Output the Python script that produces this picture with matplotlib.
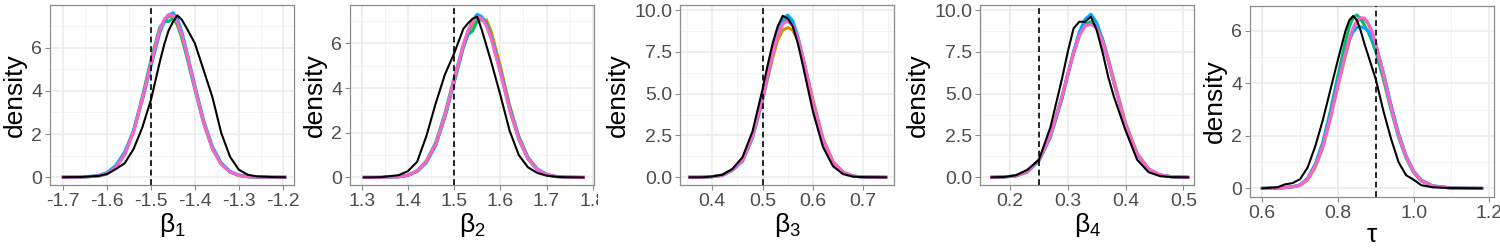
import numpy as np
import matplotlib.pyplot as plt
from matplotlib.transforms import Bbox, TransformedBbox

plt.rcParams['font.family'] = ['Liberation Sans', 'DejaVu Sans']
plt.rcParams['mathtext.fontset'] = 'custom'
plt.rcParams['mathtext.rm'] = 'Liberation Sans'
plt.rcParams['mathtext.it'] = 'Liberation Sans'
plt.rcParams['axes.unicode_minus'] = False

# ---- posterior densities (per chain + black reference) ----
x1 = [-1.70, -1.66, -1.62, -1.60, -1.58, -1.56, -1.54, -1.52, -1.50, -1.48, -1.47, -1.46, -1.45,
      -1.44, -1.43, -1.42, -1.40, -1.38, -1.36, -1.34, -1.32, -1.30, -1.28, -1.26, -1.22, -1.195]
b1_orange = [0, 0.004, 0.055, 0.17, 0.47, 1.08, 2.12, 3.60, 5.30, 6.80, 7.25, 7.45, 7.40, 7.05, 6.50, 5.80,
             4.15, 2.55, 1.35, 0.62, 0.25, 0.09, 0.025, 0.005, 0, 0]
b1_green = [0, 0.004, 0.05, 0.16, 0.45, 1.05, 2.15, 3.72, 5.45, 6.95, 7.20, 7.22, 7.35, 7.10, 6.45, 5.70,
            4.05, 2.48, 1.30, 0.60, 0.24, 0.08, 0.025, 0.006, 0, 0]
b1_cyan = [0, 0.006, 0.08, 0.22, 0.55, 1.18, 2.15, 3.55, 5.15, 6.70, 7.20, 7.50, 7.62, 7.35, 6.75, 5.95,
           4.25, 2.62, 1.42, 0.66, 0.27, 0.10, 0.03, 0.008, 0, 0]
b1_pink = [0, 0.004, 0.06, 0.17, 0.46, 1.06, 2.10, 3.62, 5.30, 6.85, 7.32, 7.54, 7.50, 7.20, 6.60, 5.86,
           4.14, 2.52, 1.33, 0.60, 0.24, 0.08, 0.023, 0.005, 0, 0]
b1_black = [0, 0.01, 0.06, 0.15, 0.38, 0.65, 1.30, 2.30, 3.60, 5.35, 6.15, 6.80, 7.20, 7.50, 7.30, 6.95,
            6.20, 4.95, 3.70, 2.05, 0.95, 0.35, 0.12, 0.04, 0.005, 0]

x2 = [1.305, 1.34, 1.38, 1.40, 1.42, 1.44, 1.46, 1.48, 1.50, 1.52, 1.53, 1.54, 1.55, 1.56, 1.57, 1.58,
      1.60, 1.62, 1.64, 1.66, 1.68, 1.70, 1.72, 1.74, 1.78]
b2_orange = [0, 0.002, 0.025, 0.09, 0.27, 0.68, 1.45, 2.70, 4.25, 5.80, 6.40, 6.85, 7.00, 7.05, 7.05, 6.55,
             5.00, 3.25, 1.85, 0.90, 0.38, 0.13, 0.04, 0.01, 0]
b2_green = [0, 0.002, 0.03, 0.10, 0.30, 0.74, 1.55, 2.85, 4.45, 5.90, 6.40, 6.55, 7.00, 7.15, 6.90, 6.30,
            4.75, 3.05, 1.70, 0.82, 0.34, 0.12, 0.04, 0.01, 0]
b2_cyan = [0, 0.003, 0.03, 0.09, 0.26, 0.66, 1.42, 2.68, 4.25, 5.85, 6.50, 7.05, 7.30, 7.20, 6.85, 6.30,
           4.80, 3.15, 1.80, 0.88, 0.38, 0.14, 0.05, 0.01, 0]
b2_pink = [0, 0.002, 0.03, 0.10, 0.29, 0.71, 1.50, 2.76, 4.37, 5.96, 6.58, 7.01, 7.19, 7.12, 6.78, 6.23,
           4.70, 3.05, 1.72, 0.83, 0.35, 0.12, 0.04, 0.01, 0]
b2_black = [0, 0.01, 0.10, 0.28, 0.70, 1.85, 3.30, 4.60, 5.55, 6.65, 6.90, 7.10, 7.20, 6.60, 5.90, 5.20,
            3.70, 2.10, 1.00, 0.45, 0.20, 0.08, 0.03, 0.01, 0]

x3 = [0.355, 0.38, 0.40, 0.42, 0.44, 0.46, 0.48, 0.50, 0.51, 0.52, 0.53, 0.54, 0.55, 0.56, 0.57, 0.58,
      0.60, 0.62, 0.64, 0.66, 0.68, 0.70, 0.745]
b3_orange = [0, 0.003, 0.035, 0.12, 0.43, 0.98, 2.40, 4.60, 5.90, 7.15, 8.20, 8.80, 8.95, 8.80, 8.20, 7.20,
             4.65, 2.35, 0.95, 0.31, 0.08, 0.015, 0]
b3_green = [0, 0.003, 0.04, 0.13, 0.46, 1.02, 2.48, 4.80, 6.15, 7.45, 8.55, 9.25, 9.45, 9.15, 8.30, 7.10,
            4.40, 2.18, 0.86, 0.28, 0.07, 0.015, 0]
b3_cyan = [0, 0.003, 0.04, 0.12, 0.42, 0.95, 2.35, 4.65, 6.05, 7.45, 8.65, 9.45, 9.70, 9.35, 8.45, 7.20,
           4.45, 2.20, 0.86, 0.28, 0.07, 0.015, 0]
b3_pink = [0, 0.003, 0.04, 0.13, 0.45, 1.00, 2.44, 4.76, 6.11, 7.41, 8.49, 9.19, 9.35, 9.08, 8.29, 7.16,
           4.50, 2.25, 0.89, 0.29, 0.07, 0.015, 0]
b3_black = [0, 0.003, 0.05, 0.15, 0.50, 1.20, 2.75, 5.28, 6.70, 8.01, 9.02, 9.65, 9.50, 9.02, 8.01, 6.70,
            3.93, 1.81, 0.66, 0.19, 0.04, 0.01, 0]

x4 = [0.168, 0.19, 0.21, 0.23, 0.25, 0.27, 0.29, 0.30, 0.31, 0.32, 0.33, 0.34, 0.35, 0.36, 0.37, 0.38,
      0.40, 0.42, 0.44, 0.46, 0.48, 0.508]
b4_orange = [0, 0.02, 0.08, 0.32, 1.00, 2.45, 4.75, 6.10, 7.40, 8.45, 9.10, 9.25, 9.05, 8.30, 7.10, 5.80,
             3.25, 1.45, 0.50, 0.14, 0.03, 0]
b4_green = [0, 0.02, 0.09, 0.34, 1.04, 2.50, 4.85, 6.20, 7.50, 8.55, 9.15, 9.30, 8.95, 8.10, 6.95, 5.62,
            3.10, 1.38, 0.48, 0.14, 0.03, 0]
b4_cyan = [0, 0.02, 0.08, 0.32, 0.98, 2.40, 4.70, 6.10, 7.50, 8.70, 9.45, 9.75, 9.25, 8.25, 7.00, 5.65,
           3.10, 1.36, 0.47, 0.13, 0.03, 0]
b4_pink = [0, 0.02, 0.09, 0.34, 1.04, 2.51, 4.84, 6.17, 7.45, 8.48, 9.05, 9.15, 8.93, 8.11, 6.96, 5.64,
           3.13, 1.39, 0.49, 0.14, 0.03, 0]
b4_black = [0, 0.02, 0.12, 0.45, 1.05, 3.00, 5.90, 7.50, 8.90, 9.30, 9.30, 9.60, 8.80, 7.50, 6.00, 4.80,
            2.80, 1.05, 0.30, 0.07, 0.01, 0]

x5 = [0.60, 0.64, 0.66, 0.68, 0.70, 0.72, 0.74, 0.76, 0.78, 0.80, 0.82, 0.83, 0.84, 0.85, 0.86, 0.87,
      0.88, 0.89, 0.90, 0.92, 0.94, 0.96, 0.98, 1.00, 1.02, 1.05, 1.10, 1.18]
t_orange = [0, 0.01, 0.025, 0.05, 0.11, 0.32, 0.80, 1.55, 2.65, 3.90, 5.05, 5.60, 6.05, 6.35, 6.45, 6.42,
            6.25, 5.95, 5.50, 4.40, 3.15, 2.05, 1.22, 0.64, 0.30, 0.09, 0.01, 0]
t_green = [0, 0.01, 0.03, 0.06, 0.13, 0.38, 0.92, 1.75, 2.95, 4.30, 5.60, 6.15, 6.50, 6.60, 6.45, 6.20,
           5.95, 5.60, 5.20, 4.15, 3.00, 1.95, 1.15, 0.60, 0.28, 0.08, 0.01, 0]
t_cyan = [0, 0.01, 0.03, 0.06, 0.13, 0.38, 0.90, 1.70, 2.85, 4.10, 5.20, 5.65, 5.95, 6.12, 6.15, 6.10,
          5.98, 5.75, 5.40, 4.40, 3.20, 2.10, 1.25, 0.66, 0.32, 0.10, 0.015, 0]
t_pink = [0, 0.01, 0.03, 0.06, 0.12, 0.35, 0.85, 1.60, 2.70, 3.95, 5.15, 5.70, 6.10, 6.38, 6.50, 6.48,
          6.28, 5.95, 5.48, 4.33, 3.10, 2.02, 1.20, 0.63, 0.30, 0.09, 0.01, 0]
t_black = [0, 0.04, 0.15, 0.20, 0.35, 0.80, 1.60, 2.60, 3.75, 4.90, 6.00, 6.40, 6.56, 6.40, 6.00, 5.50,
           5.05, 4.60, 4.15, 2.95, 1.90, 1.00, 0.50, 0.33, 0.12, 0.04, 0.01, 0]

true_values = [-1.5, 1.5, 0.5, 0.25, 0.9]
labels = ['$β_1$', '$β_2$', '$β_3$', '$β_4$', '$τ$']
xticks = [[-1.7, -1.6, -1.5, -1.4, -1.3, -1.2], [1.3, 1.4, 1.5, 1.6, 1.7, 1.8],
          [0.4, 0.5, 0.6, 0.7], [0.2, 0.3, 0.4, 0.5], [0.6, 0.8, 1.0, 1.2]]
yticks = [[0, 2, 4, 6], [0, 2, 4, 6], [0, 2.5, 5, 7.5, 10], [0, 2.5, 5, 7.5, 10], [0, 2, 4, 6]]
xtick_labels = [['-1.7', '-1.6', '-1.5', '-1.4', '-1.3', '-1.2'], ['1.3', '1.4', '1.5', '1.6', '1.7', '1.8'],
                ['0.4', '0.5', '0.6', '0.7'], ['0.2', '0.3', '0.4', '0.5'], ['0.6', '0.8', '1.0', '1.2']]
ytick_labels = [['0', '2', '4', '6'], ['0', '2', '4', '6'], ['0.0', '2.5', '5.0', '7.5', '10.0'],
                ['0.0', '2.5', '5.0', '7.5', '10.0'], ['0', '2', '4', '6']]

panels = [
    (x1, [b1_orange, b1_green, b1_cyan, b1_pink], b1_black),
    (x2, [b2_orange, b2_green, b2_cyan, b2_pink], b2_black),
    (x3, [b3_orange, b3_green, b3_cyan, b3_pink], b3_black),
    (x4, [b4_orange, b4_green, b4_cyan, b4_pink], b4_black),
    (x5, [t_orange, t_green, t_cyan, t_pink], t_black),
]
chain_colors = ['#CD9600', '#00BE67', '#00A9FF', '#FF61CC']

# layout in pixels: left, right, top, bottom ; axis limits
boxes = [(50, 294, 5, 185), (350, 594, 5, 185), (680, 894, 5, 185), (980, 1194, 5, 185), (1250, 1494, 6, 197)]
cell_right = [300, 598, 900, 1200, 1500]  # each sub-plot's cell edge (labels get clipped there)
xlims = [(-1.7303, -1.1742), (1.2747, 1.8028), (0.3358, 0.7612), (0.148, 0.5185), (0.5675, 1.2124)]
ylims = [(-0.36, 7.98), (-0.34, 7.72), (-0.46, 10.3), (-0.46, 10.3), (-0.33, 6.94)]

W, H = 1500, 250
fig = plt.figure(figsize=(15, 2.5), dpi=100)

for i, (xs, chains, ref) in enumerate(panels):
    l, r, t, b = boxes[i]
    ax = fig.add_axes([l / W, 1 - b / H, (r - l) / W, (b - t) / H])
    ax.set_xlim(*xlims[i])
    ax.set_ylim(*ylims[i])

    # grid: major + minor (midpoints), ggplot-like
    xt = xticks[i]
    yt = yticks[i]
    dx = xt[1] - xt[0]
    dy = yt[1] - yt[0]
    xminor = [v + dx / 2 for v in [xt[0] - dx] + xt]
    yminor = [v + dy / 2 for v in [yt[0] - dy] + yt]
    for v in xminor:
        if xlims[i][0] < v < xlims[i][1]:
            ax.axvline(v, color='#F2F2F2', lw=0.6, zorder=0)
    for v in yminor:
        if ylims[i][0] < v < ylims[i][1]:
            ax.axhline(v, color='#F2F2F2', lw=0.6, zorder=0)
    for v in xt:
        ax.axvline(v, color='#EBEBEB', lw=1.1, zorder=0)
    for v in yt:
        ax.axhline(v, color='#EBEBEB', lw=1.1, zorder=0)

    for c, ys in zip(chain_colors, chains):
        ax.plot(xs, ys, color=c, lw=2.2, solid_joinstyle='round', zorder=2)
    ax.plot(xs, ref, color='black', lw=1.5, solid_joinstyle='round', zorder=3)
    ax.axvline(true_values[i], color='black', lw=1.2, ls=(0, (3.5, 2.2)), zorder=4)

    ax.set_xticks(xt)
    ax.set_xticklabels(xtick_labels[i])
    ax.set_yticks(yt)
    ax.set_yticklabels(ytick_labels[i])
    ax.tick_params(direction='out', length=3.5, width=0.8, color='#8C8C8C',
                   labelsize=14, labelcolor='#4D4D4D', pad=2)
    for s in ax.spines.values():
        s.set_color('#8C8C8C')
        s.set_linewidth(0.9)

    clip = TransformedBbox(Bbox([[0, 0], [cell_right[i] / W, 1]]), fig.transFigure)
    for lbl in ax.get_xticklabels():
        lbl.set_clip_box(clip)
        lbl.set_clip_on(True)

    ax.set_xlabel(labels[i], fontsize=19, labelpad=1)
    ax.set_ylabel('density', fontsize=19, labelpad=3)

fig.savefig('out.png', dpi=100)
